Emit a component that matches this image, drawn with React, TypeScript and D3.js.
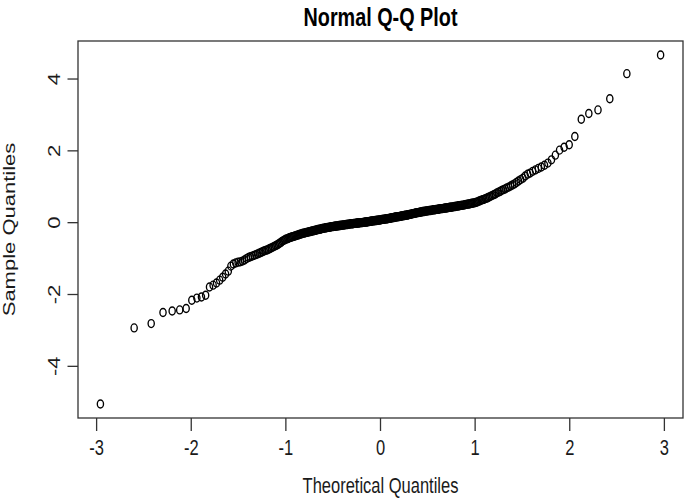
import React from "react";
import * as d3 from "d3";

const title = "Normal Q-Q Plot";
const xLabel = "Theoretical Quantiles";
const yLabel = "Sample Quantiles";
const xTicks = [-3, -2, -1, 0, 1, 2, 3];
const yTicks = [-4, -2, 0, 2, 4];

// sorted sample values (n = 325)
const sampleQuantiles = [
  -5.05, -2.93, -2.81, -2.50, -2.46, -2.43, -2.39, -2.16, -2.10, -2.07, -2.02, -1.79, -1.74, -1.68, -1.60, -1.52, -1.43, -1.35, -1.21, -1.15, -1.12, -1.10,
  -1.09, -1.07, -1.04, -1.00,
  -0.97, -0.95, -0.93, -0.91, -0.89,
  -0.87, -0.85, -0.83, -0.81, -0.79, -0.77,
  -0.76, -0.74, -0.72, -0.70, -0.68, -0.66, -0.64,
  -0.62, -0.60, -0.57, -0.55, -0.52, -0.50, -0.48, -0.46,
  -0.45, -0.44, -0.42, -0.41, -0.40, -0.39, -0.38, -0.37,
  -0.36, -0.35, -0.34, -0.33, -0.32, -0.31, -0.30, -0.29, -0.29,
  -0.28, -0.27, -0.27, -0.26, -0.25, -0.25, -0.24, -0.23, -0.23, -0.22,
  -0.21, -0.21, -0.20, -0.19, -0.19, -0.18, -0.18, -0.17, -0.16, -0.16,
  -0.15, -0.15, -0.14, -0.14, -0.13, -0.13, -0.13, -0.12, -0.12, -0.11, -0.11,
  -0.11, -0.10, -0.10, -0.10, -0.09, -0.09, -0.09, -0.08, -0.08, -0.08, -0.07, -0.07,
  -0.07, -0.06, -0.06, -0.06, -0.05, -0.05, -0.05, -0.04, -0.04, -0.04, -0.03, -0.03,
  -0.03, -0.03, -0.02, -0.02, -0.02, -0.02, -0.01, -0.01, -0.01, -0.01, 0.00, 0.00, 0.00,
  0.00, 0.01, 0.01, 0.01, 0.02, 0.02, 0.02, 0.02, 0.03, 0.03, 0.03, 0.04, 0.04,
  0.04, 0.05, 0.05, 0.05, 0.05, 0.06, 0.06, 0.06, 0.07, 0.07, 0.07, 0.08,
  0.08, 0.08, 0.09, 0.09, 0.09, 0.10, 0.10, 0.10, 0.11, 0.11, 0.11, 0.12, 0.12,
  0.12, 0.13, 0.13, 0.14, 0.14, 0.14, 0.15, 0.15, 0.16, 0.16, 0.16, 0.17, 0.17,
  0.17, 0.18, 0.18, 0.19, 0.19, 0.19, 0.20, 0.20, 0.21, 0.21, 0.21, 0.22, 0.22,
  0.23, 0.23, 0.24, 0.24, 0.25, 0.25, 0.26, 0.26, 0.27, 0.27, 0.28, 0.28,
  0.28, 0.29, 0.29, 0.30, 0.30, 0.31, 0.31, 0.31, 0.32, 0.32, 0.33, 0.33,
  0.33, 0.34, 0.34, 0.34, 0.35, 0.35, 0.36, 0.36, 0.36, 0.37, 0.37,
  0.37, 0.38, 0.38, 0.39, 0.39, 0.39, 0.40, 0.40, 0.41, 0.41,
  0.41, 0.42, 0.42, 0.43, 0.43, 0.43, 0.44, 0.44, 0.45, 0.45,
  0.46, 0.46, 0.47, 0.47, 0.48, 0.48, 0.49, 0.49, 0.50,
  0.51, 0.51, 0.52, 0.52, 0.53, 0.54, 0.54, 0.55,
  0.56, 0.57, 0.58, 0.60, 0.61, 0.63, 0.64, 0.65,
  0.67, 0.68, 0.70, 0.72, 0.74, 0.76, 0.78,
  0.80, 0.83, 0.85, 0.87, 0.90, 0.92,
  0.94, 0.97, 0.99, 1.02, 1.05,
  1.08, 1.12, 1.16, 1.20,
  1.24, 1.30, 1.35, 1.38, 1.43, 1.47, 1.51, 1.55, 1.60, 1.66, 1.75, 1.88, 2.02, 2.10, 2.17, 2.40, 2.88, 3.04, 3.14, 3.45, 4.15, 4.67,
];

// inverse standard normal CDF (Acklam)
function qnorm(p: number): number {
  const a = [-3.969683028665376e1, 2.209460984245205e2, -2.759285104469687e2, 1.38357751867269e2, -3.066479806614716e1, 2.506628277459239];
  const b = [-5.447609879822406e1, 1.615858368580409e2, -1.556989798598866e2, 6.680131188771972e1, -1.328068155288572e1];
  const c = [-7.784894002430293e-3, -3.223964580411365e-1, -2.400758277161838, -2.549732539343734, 4.374664141464968, 2.938163982698783];
  const d = [7.784695709041462e-3, 3.224671290700398e-1, 2.445134137142996, 3.754408661907416];
  const plow = 0.02425;
  if (p < plow) {
    const q = Math.sqrt(-2 * Math.log(p));
    return (((((c[0] * q + c[1]) * q + c[2]) * q + c[3]) * q + c[4]) * q + c[5]) / ((((d[0] * q + d[1]) * q + d[2]) * q + d[3]) * q + 1);
  }
  if (p <= 1 - plow) {
    const q = p - 0.5;
    const r = q * q;
    return ((((((a[0] * r + a[1]) * r + a[2]) * r + a[3]) * r + a[4]) * r + a[5]) * q) / (((((b[0] * r + b[1]) * r + b[2]) * r + b[3]) * r + b[4]) * r + 1);
  }
  const q = Math.sqrt(-2 * Math.log(1 - p));
  return -(((((c[0] * q + c[1]) * q + c[2]) * q + c[3]) * q + c[4]) * q + c[5]) / ((((d[0] * q + d[1]) * q + d[2]) * q + d[3]) * q + 1);
}

const W = 685;
const H = 499;
const box = { left: 78, right: 683, top: 41, bottom: 418 };
const SQ = 0.75; // horizontal squeeze of the original rendering
const FONT = "'Liberation Sans', Arial, Helvetica, sans-serif";
const FS = 22;

function ext(domain: [number, number]): [number, number] {
  const r = domain[1] - domain[0];
  return [domain[0] - 0.04 * r, domain[1] + 0.04 * r];
}

export default function App() {
  const sorted = [...sampleQuantiles].sort((p, q) => p - q);
  const n = sorted.length;
  const pts = sorted.map((y, i) => ({ x: qnorm((i + 1 - 0.5) / n), y }));

  const x = d3
    .scaleLinear()
    .domain(ext(d3.extent(pts, (d) => d.x) as [number, number]))
    .range([box.left, box.right]);
  const y = d3
    .scaleLinear()
    .domain(ext(d3.extent(pts, (d) => d.y) as [number, number]))
    .range([box.bottom, box.top]);

  const ink = "#1a1a1a";

  return (
    <svg
      width={W}
      height={H}
      style={{ position: "absolute", left: 0, top: 0, background: "#fff" }}
      fontFamily={FONT}
    >
      <rect x={0} y={0} width={W} height={H} fill="#fff" />
      <text
        transform={`translate(${(box.left + box.right) / 2},26) scale(${SQ},1)`}
        textAnchor="middle"
        fontSize={FS * 1.2}
        fontWeight="bold"
        fill="#000"
      >
        {title}
      </text>

      {pts.map((d, i) => (
        <ellipse
          key={i}
          cx={x(d.x)}
          cy={y(d.y)}
          rx={3.1}
          ry={4.0}
          fill="none"
          stroke="#000"
          strokeWidth={1.35}
        />
      ))}

      <rect
        x={box.left}
        y={box.top}
        width={box.right - box.left}
        height={box.bottom - box.top}
        fill="none"
        stroke="#333"
        strokeWidth={1.3}
      />

      {xTicks.map((t) => (
        <g key={"x" + t}>
          <line x1={x(t)} x2={x(t)} y1={box.bottom} y2={box.bottom + 13} stroke="#333" strokeWidth={1.3} />
          <text
            transform={`translate(${x(t)},455) scale(${SQ},1)`}
            textAnchor="middle"
            fontSize={FS}
            fill={ink}
          >
            {t}
          </text>
        </g>
      ))}

      {yTicks.map((t) => (
        <g key={"y" + t}>
          <line x1={box.left - 10.5} x2={box.left} y1={y(t)} y2={y(t)} stroke="#333" strokeWidth={1.3} />
          <text
            transform={`translate(60,${y(t)}) scale(${SQ},1) rotate(-90)`}
            textAnchor="middle"
            fontSize={FS}
            fill={ink}
          >
            {t}
          </text>
        </g>
      ))}

      <text
        transform={`translate(${(box.left + box.right) / 2},493) scale(${SQ},1)`}
        textAnchor="middle"
        fontSize={FS}
        fill={ink}
      >
        {xLabel}
      </text>
      <text
        transform={`translate(15,${(box.top + box.bottom) / 2}) scale(${SQ},1) rotate(-90)`}
        textAnchor="middle"
        fontSize={FS}
        fill={ink}
      >
        {yLabel}
      </text>
    </svg>
  );
}
